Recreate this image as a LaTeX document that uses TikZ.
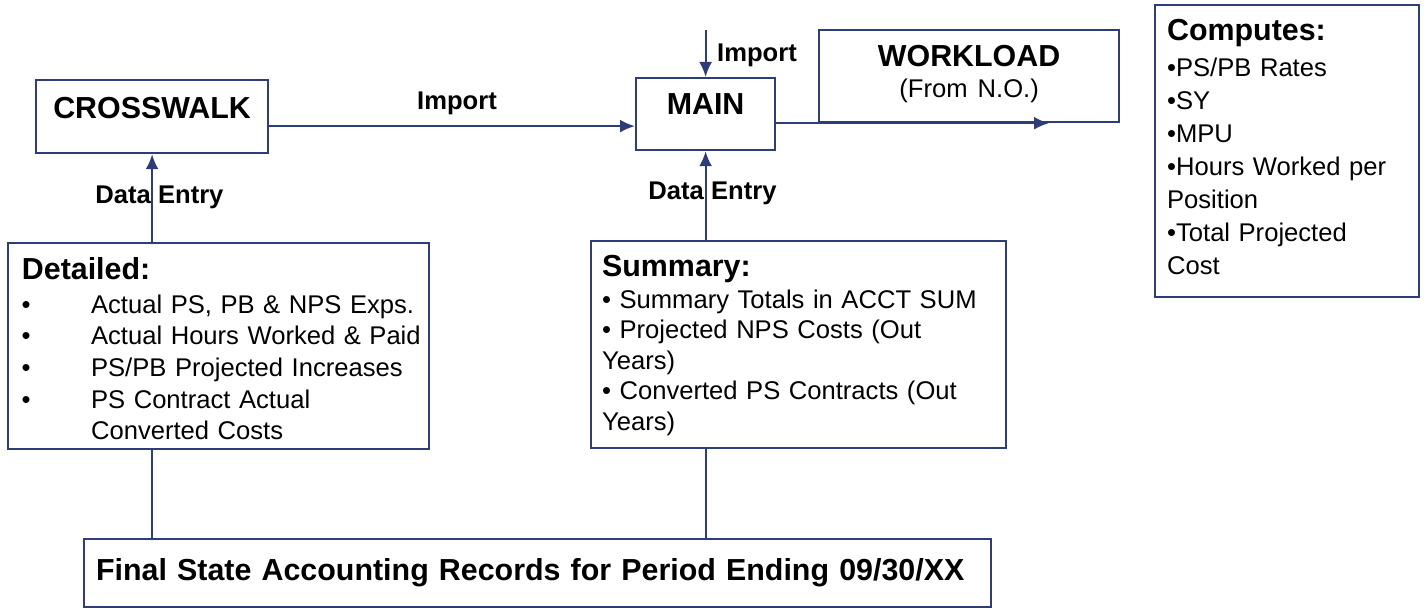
\documentclass[tikz,border=0pt]{standalone}
\usepackage{fontspec}
\setmainfont{Liberation Sans}
\usetikzlibrary{arrows.meta,positioning}
\definecolor{chartblue}{RGB}{46,61,120}
\newcommand{\headfont}{\fontsize{15.2}{18}\selectfont\bfseries}
\newcommand{\bodyfont}{\fontsize{12.8}{15.85}\selectfont}
\newcommand{\dotitem}{\makebox[37.5pt][l]{\hspace*{2.8pt}\textbullet}}
\newcommand{\dotgap}{\hspace*{37.5pt}}
\tikzset{
  chartbox/.style={draw=chartblue, line width=1.1pt, rectangle, inner ysep=0pt},
  titlebox/.style={chartbox, anchor=north west, font=\headfont, inner xsep=0pt},
  listbox/.style={chartbox, anchor=north west, align=left, font=\bodyfont},
  flow/.style={draw=chartblue, line width=1.1pt, -{Latex[length=7.5pt,width=6.5pt]}},
  link/.style={draw=chartblue, line width=1.1pt},
  tag/.style={font=\bodyfont\bfseries, inner sep=0pt}
}
\begin{document}
\begin{tikzpicture}[x=0.5pt, y=-0.5pt]
  \useasboundingbox (0,0) rectangle (1424,609);
  % boxes along the top
  \node[titlebox, minimum width=116pt, text height=19.35pt, text depth=17.15pt] (cross) at (35,79) {CROSSWALK};
  \node[titlebox, minimum width=69.5pt, text height=18pt, text depth=18pt] (main) at (635,77) {MAIN};
  \node[titlebox, text width=150pt, align=center, text height=18pt, text depth=28pt] (workload) at (818,29) {WORKLOAD\\[-2.2pt]{\bodyfont\mdseries (From N.O.)}};
  \node[listbox, text width=120pt, inner xsep=6pt, text height=17.5pt, text depth=128.5pt, font=\fontsize{12.8}{16.5}\selectfont] (computes) at (1154,4) {{\headfont Computes:}\\[1.5pt]
    \textbullet PS/PB Rates\\
    \textbullet SY\\
    \textbullet MPU\\
    \textbullet Hours Worked per\\
    Position\\
    \textbullet Total Projected\\
    Cost};
  % lists
  \node[listbox, text width=202.5pt, inner xsep=4pt, text height=18pt, text depth=85pt] (detailed) at (7,242) {\hspace*{2.9pt}{\headfont Detailed:}\\[1.15pt]
    \dotitem Actual PS, PB \& NPS Exps.\\
    \dotitem Actual Hours Worked \& Paid\\
    \dotitem PS/PB Projected Increases\\
    \dotitem PS Contract Actual\\
    \dotgap Converted Costs};
  \node[listbox, text width=196.5pt, inner xsep=5.5pt, text height=17.5pt, text depth=86pt, font=\fontsize{12.8}{15.25}\selectfont] (summary) at (590,240) {{\headfont Summary:}\\[0.75pt]
    \textbullet\ Summary Totals in ACCT SUM\\
    \textbullet\ Projected NPS Costs (Out\\
    Years)\\
    \textbullet\ Converted PS Contracts (Out\\
    Years)};
  \node[chartbox, anchor=north west, text width=441.5pt, inner xsep=6pt, align=left, font=\headfont, text height=20.5pt, text depth=13.5pt] (final) at (83,538) {Final State Accounting Records for Period Ending 09/30/XX};
  % connectors
  \draw[flow] ([yshift=-4.75pt]cross.east) -- ([yshift=-6pt]main.west);
  \node[tag] (importleft) at (457,103) {Import};
  \coordinate (inlet) at ([yshift=23.5pt]main.north);
  \draw[flow] (inlet) -- (main.north);
  \node[tag] (importtop) at (757,55.5) {Import};
  \coordinate (outlet) at ([xshift=1pt]workload.south west -| 1047,0);
  \draw[flow] (main.east |- workload.south) -- (outlet);
  \draw[flow] (detailed.north -| cross.south) -- (cross.south);
  \node[tag] (entryleft) at (159.5,197.5) {Data Entry};
  \draw[flow] (summary.north -| main.south) -- (main.south);
  \node[tag] (entryright) at (712.5,193.5) {Data Entry};
  \draw[link] (detailed.south -| cross.south) -- (cross.south |- final.north);
  \draw[link] (summary.south -| main.south) -- (main.south |- final.north);
\end{tikzpicture}
\end{document}
